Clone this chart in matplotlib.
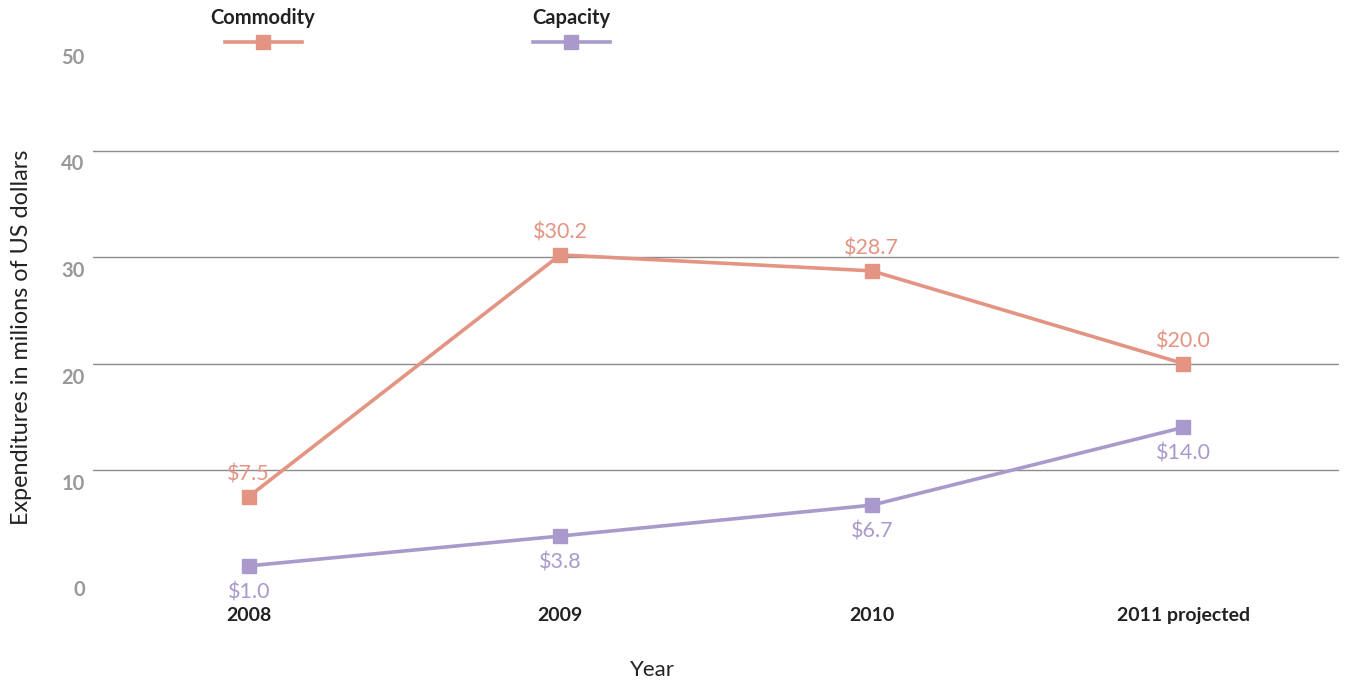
import matplotlib.pyplot as plt
from matplotlib.lines import Line2D
from matplotlib.transforms import ScaledTranslation

plt.rcParams['font.family'] = ['Lato', 'DejaVu Sans']

years = ["2008", "2009", "2010", "2011 projected"]
commodity = [7.5, 30.2, 28.7, 20.0]
capacity = [1.0, 3.8, 6.7, 14.0]
yticks = [0, 10, 20, 30, 40, 50]

c_com = "#e39482"
c_cap = "#aa9acb"

fig = plt.figure(figsize=(13.45, 6.87), dpi=100)
ax = fig.add_axes([93/1345, 1 - 576.5/687, (1339-93)/1345, (576.5-44)/687])

x = list(range(len(years)))
for v in [10, 20, 30, 40]:
    ax.axhline(v, color="#8c8c8c", lw=1.0, zorder=1)

ax.plot(x, commodity, color=c_com, lw=2.6, marker="s", ms=10.5, zorder=3)
ax.plot(x, capacity, color=c_cap, lw=2.6, marker="s", ms=10.5, zorder=3)

for xi, v in zip(x, commodity):
    ax.annotate(f"${v:.1f}", (xi, v), xytext=(0, 16), textcoords="offset points",
                ha="center", va="center", color=c_com, fontsize=15.5)
for xi, v in zip(x, capacity):
    ax.annotate(f"${v:.1f}", (xi, v), xytext=(0, -19), textcoords="offset points",
                ha="center", va="center", color=c_cap, fontsize=15.5)

ax.set_xlim(-0.5, 3.5)
ax.set_ylim(0, 50)
ax.set_xticks(x)
ax.set_xticklabels(years, fontsize=14, fontweight="bold", color="#222222")
ax.set_yticks(yticks)
ax.set_yticklabels([str(t) for t in yticks], fontsize=14.5, fontweight="bold", color="#999999")
ax.tick_params(axis="x", length=0, pad=22)
ax.tick_params(axis="y", length=0, pad=6)
for lab in ax.get_yticklabels():
    lab.set_transform(lab.get_transform() + ScaledTranslation(0, -0.12, fig.dpi_scale_trans))
for s in ax.spines.values():
    s.set_visible(False)

fig.text(22/1345, 1 - 337/687, "Expenditures in milions of US dollars", rotation=90,
         ha="center", va="center", fontsize=16.8, color="#222222")
fig.text(652/1345, 1 - 670/687, "Year", ha="center", va="center", fontsize=16, color="#222222")

# legend drawn by hand: title above a short line with a square marker
for cx, name, col in [(263, "Commodity", c_com), (571, "Capacity", c_cap)]:
    fig.text(cx/1345, 1 - 18/687, name, ha="center", va="center", fontsize=14.5,
             fontweight="bold", color="#222222")
    fig.add_artist(Line2D([(cx-38)/1345, (cx+39)/1345], [1 - 42/687, 1 - 42/687],
                          color=col, lw=2.6, transform=fig.transFigure))
    fig.add_artist(Line2D([cx/1345], [1 - 42/687], color=col, marker="s", ms=10.5,
                          transform=fig.transFigure))

fig.savefig("out.png", dpi=100)
